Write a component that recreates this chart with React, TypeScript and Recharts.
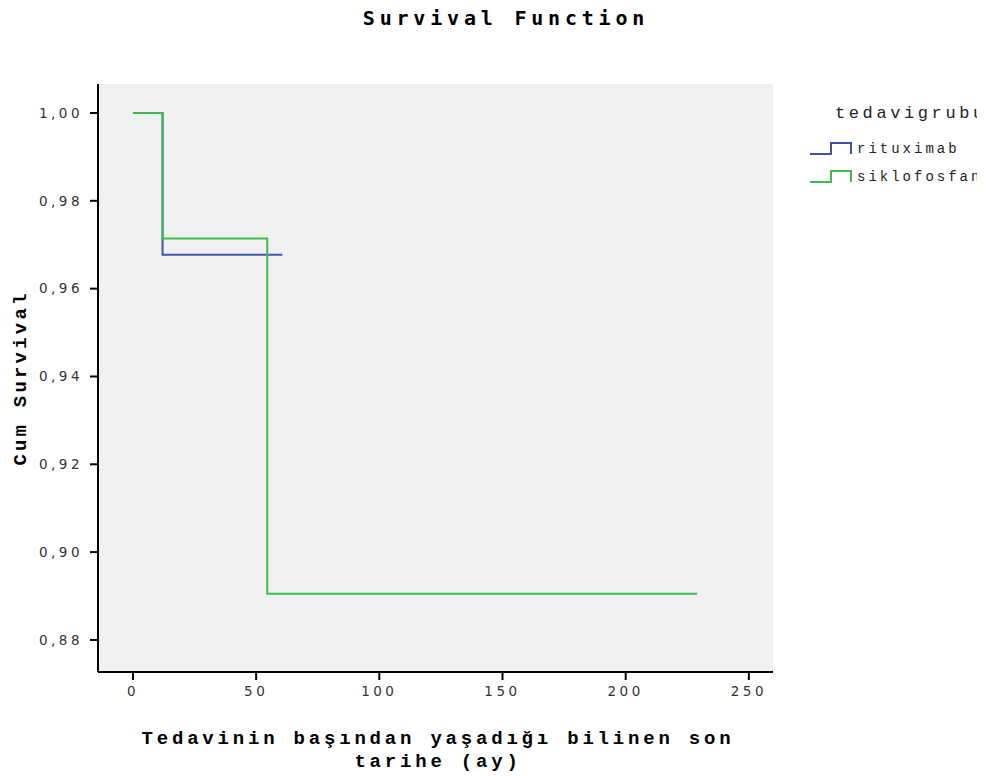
import { LineChart, Line, XAxis, YAxis, CartesianGrid } from 'recharts';

const times = [0, 12, 54.5, 60.6, 229];
const rituximab = [1, 0.9677, 0.9677, 0.9677, null];
const siklofosfan = [1, 0.9714, 0.8905, 0.8905, 0.8905];

const xTicks = [0, 50, 100, 150, 200, 250];
const yTicks = [0.88, 0.9, 0.92, 0.94, 0.96, 0.98, 1.0];

const groups = [
  { key: 'rituximab', name: 'rituximab', color: '#3e55a6' },
  { key: 'siklofosfan', name: 'siklofosfan', color: '#3dba52' },
];

const X_DOMAIN: [number, number] = [-14.2, 259.8];
const Y_DOMAIN: [number, number] = [0.8727, 1.0066];

const data = times.map((t, i) => ({ t, rituximab: rituximab[i], siklofosfan: siklofosfan[i] }));

const mono = '"Liberation Mono", "DejaVu Sans Mono", monospace';
const tickStyle = { fontFamily: '"DejaVu Sans", sans-serif', fontSize: 13.5, fill: '#333', letterSpacing: 3.5 };

function StepIcon({ color }: { color: string }) {
  return (
    <svg width={44} height={16} style={{ display: 'block' }}>
      <path d="M1 13 H22 V2 H42 V13" fill="none" stroke={color} strokeWidth={2} />
    </svg>
  );
}

function LegendBox() {
  return (
    <div style={{ position: 'absolute', left: 809, top: 104, width: 200, fontFamily: mono, color: '#222' }}>
      <div style={{ fontSize: 17, letterSpacing: 3.6, marginLeft: 26, whiteSpace: 'nowrap', height: 31 }}>tedavigrubu</div>
      {groups.map(g => (
        <div key={g.key} style={{ display: 'flex', alignItems: 'center', height: 28, whiteSpace: 'nowrap' }}>
          <StepIcon color={g.color} />
          <span style={{ fontSize: 14, letterSpacing: 3, marginLeft: 4 }}>{g.name}</span>
        </div>
      ))}
    </div>
  );
}

export default function App() {
  return (
    <div style={{ position: 'relative', width: 985, height: 776, margin: '-8px 0 0 -8px', overflow: 'hidden', background: '#fff' }}>
      <div style={{ position: 'absolute', top: 5, left: 0, width: 1012, textAlign: 'center', fontFamily: '"DejaVu Sans Mono", monospace', fontWeight: 'bold', fontSize: 20, letterSpacing: 4.8, lineHeight: '26px' }}>
        Survival Function
      </div>
      <LineChart width={985} height={776} data={data} margin={{ top: 84, right: 212, left: 0, bottom: 0 }}>
        <CartesianGrid fill="#f0f0f0" horizontal={false} vertical={false} />
        <XAxis
          dataKey="t"
          type="number"
          domain={X_DOMAIN}
          ticks={xTicks}
          height={104}
          tickSize={8}
          tickMargin={6}
          axisLine={{ stroke: '#000', strokeWidth: 2 }}
          tickLine={{ stroke: '#000', strokeWidth: 2 }}
          tick={tickStyle}
          allowDataOverflow
        />
        <XAxis xAxisId="top" orientation="top" type="number" domain={X_DOMAIN} height={0} tick={false} tickLine={false} axisLine={{ stroke: '#000', strokeWidth: 2 }} allowDataOverflow />
        <YAxis
          type="number"
          domain={Y_DOMAIN}
          ticks={yTicks}
          width={98}
          tickSize={8}
          tickMargin={7}
          axisLine={{ stroke: '#000', strokeWidth: 2 }}
          tickLine={{ stroke: '#000', strokeWidth: 2 }}
          tick={tickStyle}
          tickFormatter={(v: number) => v.toFixed(2).replace('.', ',')}
          allowDataOverflow
        />
        <YAxis yAxisId="right" orientation="right" type="number" domain={Y_DOMAIN} width={0} tick={false} tickLine={false} axisLine={{ stroke: '#000', strokeWidth: 2 }} allowDataOverflow />
        {groups.map(g => (
          <Line
            key={g.key}
            type="stepAfter"
            dataKey={g.key}
            name={g.name}
            stroke={g.color}
            strokeWidth={2}
            dot={false}
            activeDot={false}
            isAnimationActive={false}
          />
        ))}
      </LineChart>
      <LegendBox />
      <div style={{ position: 'absolute', left: 21, top: 378, transform: 'translate(-50%, -50%) rotate(-90deg)', whiteSpace: 'nowrap', fontFamily: mono, fontWeight: 'bold', fontSize: 19, letterSpacing: 3.2 }}>
        Cum Survival
      </div>
      <div style={{ position: 'absolute', left: 98, top: 728, width: 680, textAlign: 'center', fontFamily: mono, fontWeight: 'bold', fontSize: 19, letterSpacing: 3.8, lineHeight: '23px' }}>
        Tedavinin başından yaşadığı bilinen son<br />tarihe (ay)
      </div>
    </div>
  );
}
